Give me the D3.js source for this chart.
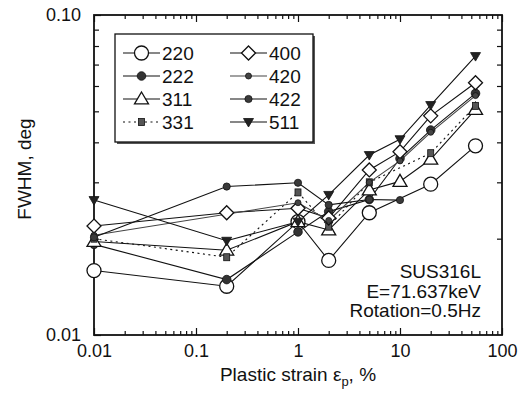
<!DOCTYPE html>
<html>
<head>
<meta charset="utf-8">
<script src="https://cdn.jsdelivr.net/npm/d3@7"></script>
<style>
    body { margin: 0; background: #fff; }
    text { font-family: "Liberation Sans", Arial, Helvetica, sans-serif; fill: #111; }
</style>
</head>
<body>
<svg id="chart" width="526" height="401"></svg>
<script>
// plastic strain (%) where FWHM was measured
const strain = [0.01, 0.2, 1, 2, 5, 10, 20, 55];

// FWHM (deg) per reflection, null = no point
const fwhm220 = [0.0159, 0.0142, 0.0226, 0.0171, 0.0241, null, 0.0296, 0.0390];
const fwhm222 = [0.0192, 0.0149, 0.0210, 0.0243, 0.0265, 0.0356, 0.0437, 0.0569];
const fwhm311 = [0.0196, 0.0184, 0.0226, 0.0213, 0.0284, 0.0302, 0.0354, 0.0507];
const fwhm331 = [0.0200, 0.0175, 0.0279, 0.0218, 0.0300, null, 0.0370, 0.0520];
const fwhm400 = [0.0219, 0.0241, 0.0249, 0.0232, 0.0328, 0.0374, 0.0484, 0.0614];
const fwhm420 = [0.0205, null, 0.0259, 0.0228, 0.0300, 0.0350, 0.0430, 0.0560];
const fwhm422 = [0.0202, 0.0291, 0.0299, 0.0255, 0.0265, 0.0264, null, null];
const fwhm511 = [0.0264, 0.0197, 0.0226, 0.0274, 0.0365, 0.0409, 0.0523, 0.0744];

const seriesNames = ['220', '222', '311', '331', '400', '420', '422', '511'];
const xTickLabels = ['0.01', '0.1', '1', '10', '100'];
const yTickLabels = ['0.01', '0.10'];
const noteLines = ['SUS316L', 'E=71.637keV', 'Rotation=0.5Hz'];

const series = [
    {name: '220', values: fwhm220, marker: 'openCircle'},
    {name: '222', values: fwhm222, marker: 'bigDot'},
    {name: '311', values: fwhm311, marker: 'openTriangle'},
    {name: '331', values: fwhm331, marker: 'square', dash: '2,3.5'},
    {name: '400', values: fwhm400, marker: 'diamond'},
    {name: '420', values: fwhm420, marker: 'smallDot', color: '#444'},
    {name: '422', values: fwhm422, marker: 'dot'},
    {name: '511', values: fwhm511, marker: 'downTriangle'}
];

const svg = d3.select('#chart');
const m = {left: 94, right: 502, top: 15, bottom: 335};

const x = d3.scaleLog().domain([0.01, 100]).range([m.left, m.right]);
const y = d3.scaleLog().domain([0.01, 0.1]).range([m.bottom, m.top]);

// minor ticks 2..9 of every decade
const minorX = [];
[0.01, 0.1, 1, 10].forEach(d => { for (let k = 2; k <= 9; k++) minorX.push(d * k); });
const minorY = [];
for (let k = 2; k <= 9; k++) minorY.push(0.01 * k);
const majorX = [0.01, 0.1, 1, 10, 100];
const majorY = [0.01, 0.1];

function styleAxis(g) {
    g.select('.domain').remove();
    g.selectAll('line').attr('stroke', '#111').attr('stroke-width', 1.2);
    g.selectAll('text').style('font-size', '18px').attr('fill', '#111');
}

// bottom
svg.append('g').attr('transform', 'translate(0,' + m.bottom + ')')
    .call(d3.axisBottom(x).tickValues(majorX).tickSizeInner(-7).tickSizeOuter(0).tickPadding(9)
        .tickFormat((d, i) => xTickLabels[i]))
    .call(styleAxis);
svg.append('g').attr('transform', 'translate(0,' + m.bottom + ')')
    .call(d3.axisBottom(x).tickValues(minorX).tickSize(-4).tickFormat(''))
    .call(styleAxis);
// top
svg.append('g').attr('transform', 'translate(0,' + m.top + ')')
    .call(d3.axisTop(x).tickValues(majorX).tickSize(-7).tickFormat(''))
    .call(styleAxis);
svg.append('g').attr('transform', 'translate(0,' + m.top + ')')
    .call(d3.axisTop(x).tickValues(minorX).tickSize(-4).tickFormat(''))
    .call(styleAxis);
// left
svg.append('g').attr('transform', 'translate(' + m.left + ',0)')
    .call(d3.axisLeft(y).tickValues(majorY).tickSizeInner(-7).tickSizeOuter(0).tickPadding(13)
        .tickFormat((d, i) => yTickLabels[i]))
    .call(styleAxis);
svg.append('g').attr('transform', 'translate(' + m.left + ',0)')
    .call(d3.axisLeft(y).tickValues(minorY).tickSize(-5).tickFormat(''))
    .call(styleAxis);
// right
svg.append('g').attr('transform', 'translate(' + m.right + ',0)')
    .call(d3.axisRight(y).tickValues(minorY).tickSize(-5).tickFormat(''))
    .call(styleAxis);

// frame
svg.append('rect')
    .attr('x', m.left).attr('y', m.top)
    .attr('width', m.right - m.left).attr('height', m.bottom - m.top)
    .attr('fill', 'none').attr('stroke', '#111').attr('stroke-width', 1.8);

// axis titles
svg.append('text')
    .attr('transform', 'translate(31,' + ((m.top + m.bottom) / 2 - 6) + ') rotate(-90)')
    .attr('text-anchor', 'middle')
    .style('font-size', '19px')
    .text('FWHM, deg');

const xt = svg.append('text')
    .attr('x', (m.left + m.right) / 2).attr('y', 381)
    .attr('text-anchor', 'middle')
    .style('font-size', '19px');
xt.append('tspan').text('Plastic strain \u03b5');
xt.append('tspan').attr('dy', 5).style('font-size', '13px').text('p');
xt.append('tspan').attr('dy', -5).text(', %');

// markers
function drawMarker(g, type, cx, cy, color) {
    const c = color || '#222';
    if (type === 'openCircle') {
        g.append('circle').attr('cx', cx).attr('cy', cy).attr('r', 7)
            .attr('fill', '#fff').attr('stroke', '#111').attr('stroke-width', 1.3);
    } else if (type === 'bigDot') {
        g.append('circle').attr('cx', cx).attr('cy', cy).attr('r', 4.3)
            .attr('fill', '#333').attr('stroke', '#111').attr('stroke-width', 0.8);
    } else if (type === 'dot') {
        g.append('circle').attr('cx', cx).attr('cy', cy).attr('r', 3.6)
            .attr('fill', '#3a3a3a').attr('stroke', '#111').attr('stroke-width', 0.8);
    } else if (type === 'smallDot') {
        g.append('circle').attr('cx', cx).attr('cy', cy).attr('r', 3)
            .attr('fill', '#444').attr('stroke', '#111').attr('stroke-width', 0.8);
    } else if (type === 'square') {
        g.append('rect').attr('x', cx - 3).attr('y', cy - 3.5).attr('width', 6).attr('height', 7)
            .attr('fill', '#555').attr('stroke', '#111').attr('stroke-width', 0.8);
    } else if (type === 'diamond') {
        const s = 7;
        g.append('path')
            .attr('d', 'M' + cx + ',' + (cy - s) + 'L' + (cx + s) + ',' + cy + 'L' + cx + ',' + (cy + s) + 'L' + (cx - s) + ',' + cy + 'Z')
            .attr('fill', '#fff').attr('stroke', '#111').attr('stroke-width', 1.3);
    } else if (type === 'openTriangle') {
        const s = 7;
        g.append('path')
            .attr('d', 'M' + cx + ',' + (cy - s) + 'L' + (cx + s) + ',' + (cy + s * 0.7) + 'L' + (cx - s) + ',' + (cy + s * 0.7) + 'Z')
            .attr('fill', '#fff').attr('stroke', '#111').attr('stroke-width', 1.3);
    } else if (type === 'downTriangle') {
        const s = 5;
        g.append('path')
            .attr('d', 'M' + (cx - s) + ',' + (cy - s * 0.7) + 'L' + (cx + s) + ',' + (cy - s * 0.7) + 'L' + cx + ',' + (cy + s) + 'Z')
            .attr('fill', c).attr('stroke', '#111').attr('stroke-width', 0.8);
    }
}

const line = d3.line()
    .defined(d => d[1] !== null)
    .x(d => x(d[0]))
    .y(d => y(d[1]));

const linesG = svg.append('g');
series.forEach(s => {
    const pts = strain.map((v, i) => [v, s.values[i]]).filter(d => d[1] !== null);
    linesG.append('path')
        .datum(pts)
        .attr('d', line)
        .attr('fill', 'none')
        .attr('stroke', s.color || '#111')
        .attr('stroke-width', 1.1)
        .attr('stroke-dasharray', s.dash || null);
});

const markG = svg.append('g');
series.forEach(s => {
    strain.forEach((v, i) => {
        if (s.values[i] === null) return;
        drawMarker(markG, s.marker, x(v), y(s.values[i]), s.color);
    });
});

// legend
const lg = svg.append('g');
const box = {x: 115, y: 34, w: 198, h: 108};
lg.append('rect').attr('x', box.x + 2).attr('y', box.y + 2).attr('width', box.w).attr('height', box.h)
    .attr('fill', '#555');
lg.append('rect').attr('x', box.x).attr('y', box.y).attr('width', box.w).attr('height', box.h)
    .attr('fill', '#fff').attr('stroke', '#111').attr('stroke-width', 1.3);

const colX = [123, 230];
const rowY = [53, 76, 99, 122];
series.forEach((s, i) => {
    const cx = colX[Math.floor(i / 4)];
    const cy = rowY[i % 4];
    lg.append('line').attr('x1', cx).attr('x2', cx + 37).attr('y1', cy).attr('y2', cy)
        .attr('stroke', s.color || '#111').attr('stroke-width', 1.1)
        .attr('stroke-dasharray', s.dash || null);
    drawMarker(lg, s.marker, cx + 18.5, cy, s.color);
    lg.append('text').attr('x', cx + 39).attr('y', cy).attr('dy', '0.36em')
        .style('font-size', '19px').text(seriesNames[i]);
});

// annotation
const note = svg.append('text').attr('text-anchor', 'end').style('font-size', '19px');
noteLines.forEach((t, i) => {
    note.append('tspan').attr('x', 481).attr('y', 278 + i * 19.5).text(t);
});
</script>
</body>
</html>
